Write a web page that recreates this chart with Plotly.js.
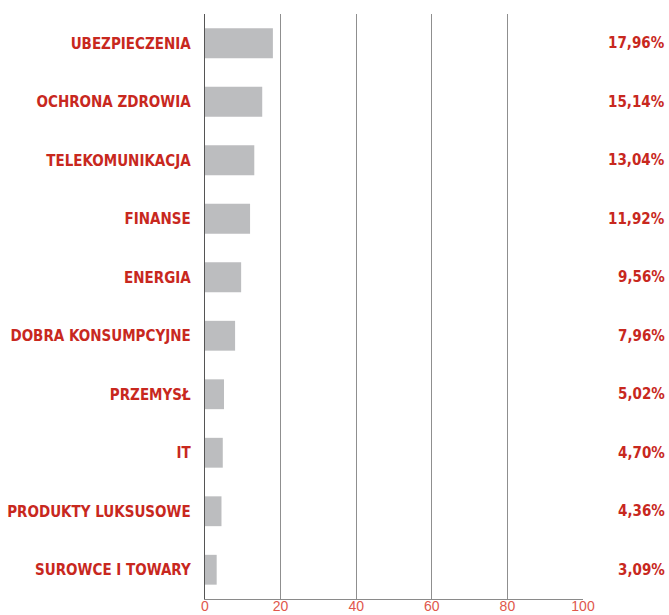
<!DOCTYPE html>
<html><head><meta charset="utf-8">
<script src="https://cdn.plot.ly/plotly-3.0.1.min.js"></script>
<style>body{margin:0;background:#fff}</style>
</head><body>
<div id="chart" style="width:669px;height:615px"></div>
<script>
const categories = ["UBEZPIECZENIA","OCHRONA ZDROWIA","TELEKOMUNIKACJA","FINANSE","ENERGIA","DOBRA KONSUMPCYJNE","PRZEMYSŁ","IT","PRODUKTY LUKSUSOWE","SUROWCE I TOWARY"];
const values = [17.96,15.14,13.04,11.92,9.56,7.96,5.02,4.70,4.36,3.09];
const valueLabels = ["17,96%","15,14%","13,04%","11,92%","9,56%","7,96%","5,02%","4,70%","4,36%","3,09%"];
const xTicks = [0,20,40,60,80,100];

const red = "#c8281e";
const condensed = "DejaVu Sans Condensed, Liberation Sans Narrow, sans-serif";
const trace = {
  type: "bar", orientation: "h",
  x: values, y: categories,
  marker: {color: "#bcbdbf"},
  hoverinfo: "none"
};
const annotations = categories.map((c,i)=>({
  xref: "paper", yref: "y", x: 1.222, y: c, xanchor: "right", yanchor: "middle",
  text: valueLabels[i], showarrow: false,
  font: {family: condensed, size: 15, color: red, weight: "bold"}
}));
const layout = {
  width: 669, height: 615,
  margin: {l: 205, r: 86, t: 14, b: 16},
  paper_bgcolor: "#fff", plot_bgcolor: "#fff",
  showlegend: false,
  bargap: 0.49,
  xaxis: {
    range: [0, 100], tickvals: xTicks, ticktext: xTicks.map(String),
    showgrid: true, gridcolor: "#8f8f8f", gridwidth: 1.3,
    zeroline: false, showline: true, linecolor: "#8a8a8a", linewidth: 1.3, mirror: false,
    ticks: "", ticklabelstandoff: -6,
    tickfont: {family: "Liberation Sans, Arial, sans-serif", size: 14, color: "#e0574c"},
    fixedrange: true
  },
  yaxis: {
    autorange: "reversed", showgrid: false, zeroline: false,
    ticks: "outside", ticklen: 10, tickcolor: "rgba(0,0,0,0)",
    tickfont: {family: condensed, size: 15, color: red, weight: "bold"},
    showline: true, linecolor: "#555", linewidth: 1.3,
    fixedrange: true
  },
  annotations: annotations
};
Plotly.newPlot("chart", [trace], layout, {displayModeBar: false, staticPlot: true});
</script>
</body></html>
